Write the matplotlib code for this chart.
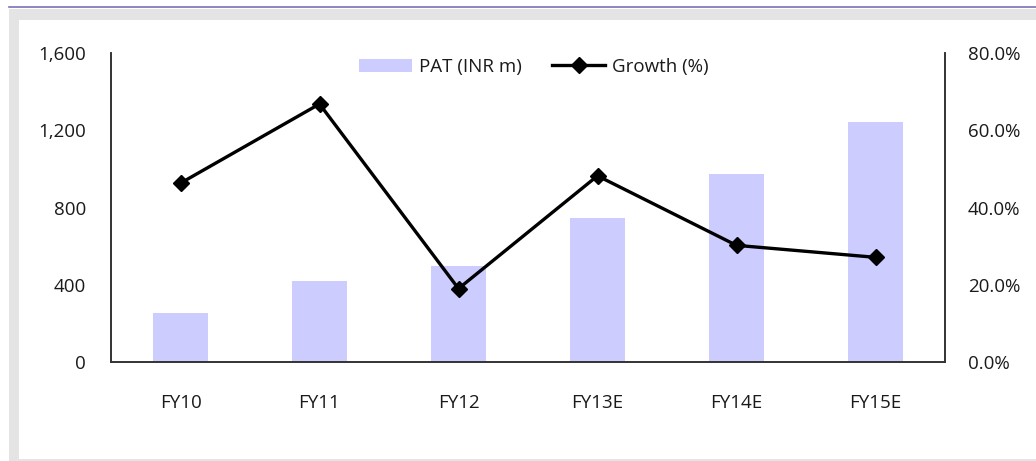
import matplotlib.pyplot as plt
from matplotlib.patches import Rectangle
from matplotlib.lines import Line2D
from matplotlib.ticker import FuncFormatter

# PAT and growth by fiscal year
years = ['FY10', 'FY11', 'FY12', 'FY13E', 'FY14E', 'FY15E']
pat = [252, 418, 498, 748, 976, 1245]
growth = [46.3, 66.8, 19.0, 48.2, 30.2, 27.1]

plt.rcParams['font.family'] = ['Open Sans', 'DejaVu Sans']
text_color = '#1a1a1a'
fs = 13.5

fig = plt.figure(figsize=(10.36, 4.61), dpi=100)

# frame around the chart: header rule, grey border, white panel
fig.add_artist(Line2D([9 / 1036, 1], [1 - 7 / 461, 1 - 7 / 461], color='#7b6fb8', lw=1.2,
                      transform=fig.transFigure))
fig.add_artist(Rectangle((9 / 1036, 0), 1 - 9 / 1036, 1 - 9 / 461, transform=fig.transFigure,
                         facecolor='#e4e4e4', edgecolor='none', zorder=-3))
fig.add_artist(Rectangle((19 / 1036, 2 / 461), 1 - 19 / 1036, 1 - 22 / 461, transform=fig.transFigure,
                         facecolor='white', edgecolor='none', zorder=-2))

ax = fig.add_axes([111 / 1036, 99 / 461, 834 / 1036, 309 / 461])
ax.patch.set_alpha(0)
x = range(len(years))
bars = ax.bar(x, pat, width=0.4, color='#ccccff', label='PAT (INR m)', zorder=1)
ax.set_ylim(0, 1600)
ax.set_xlim(-0.5, len(years) - 0.5)
ax.set_yticks([0, 400, 800, 1200, 1600])
ax.yaxis.set_major_formatter(FuncFormatter(lambda v, p: f'{v:,.0f}'))
ax.set_xticks(list(x))
ax.set_xticklabels(years)

ax2 = ax.twinx()
line, = ax2.plot(x, growth, color='black', lw=2.4, marker='D', markersize=8,
                 label='Growth (%)', zorder=3)
ax2.set_ylim(0, 80)
ax2.set_yticks([0, 20, 40, 60, 80])
ax2.yaxis.set_major_formatter(FuncFormatter(lambda v, p: f'{v:.1f}%'))

for a in (ax, ax2):
    a.spines['top'].set_visible(False)
    for s in ('left', 'right', 'bottom'):
        a.spines[s].set_color('#333333')
        a.spines[s].set_linewidth(1.2)
    a.tick_params(length=0, labelsize=fs, colors=text_color)
ax.tick_params(axis='y', pad=18)
ax.tick_params(axis='x', pad=23)
ax2.tick_params(axis='y', pad=16.5)

leg = ax.legend([bars, line], ['PAT (INR m)', 'Growth (%)'], loc='center',
                bbox_to_anchor=(0.507, 0.955), ncol=2, frameon=False, fontsize=fs,
                handlelength=2.8, handletextpad=0.37, columnspacing=1.65,
                borderpad=0, borderaxespad=0)
for t in leg.get_texts():
    t.set_color(text_color)

fig.savefig('out.png', dpi=100)
